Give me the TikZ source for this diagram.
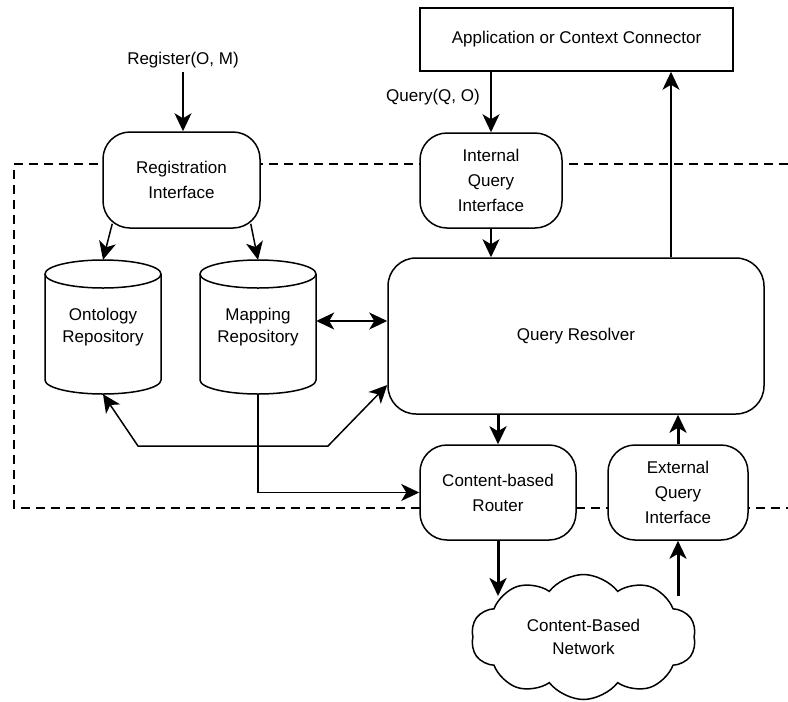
\documentclass[tikz,border=0pt]{standalone}
\usepackage{fontspec}
\setmainfont{Liberation Sans}
\usetikzlibrary{shapes.symbols,arrows.meta,calc,backgrounds}
\begin{document}
\begin{tikzpicture}[x=1pt,y=1pt,
  font=\fontsize{17}{25}\selectfont,
  box/.style={draw,line width=1.5pt,rounded corners=27pt,fill=white,align=center,inner sep=0pt},
  plain/.style={draw,line width=1.5pt,fill=white,align=center,inner sep=0pt},
  cyl/.style={draw,line width=1.5pt,fill=white},
  lbl/.style={align=center,inner sep=0pt},
  tip/.style={-{Stealth[length=18pt,width=17pt,inset=5pt]}},
  btip/.style={{Stealth[length=18pt,width=17pt,inset=5pt]}-{Stealth[length=18pt,width=17pt,inset=5pt]}},
  conn/.style={line width=1.5pt},
  thickconn/.style={line width=3pt},
  dashbox/.style={line width=1.3pt,dash pattern=on 9pt off 6pt}]
\useasboundingbox (0,0) rectangle (788,-702);
% dashed system boundary
\draw[dashbox] (788,-164) -- (14,-164) -- (14,-508) -- (788,-508);
% nodes
\node[box,minimum width=157pt,minimum height=96pt] (reg) at (181.5,-180) {Registration\\Interface};
\node[box,minimum width=142pt,minimum height=95pt] (iqi) at (491,-180.5) {Internal\\Query\\Interface};
\node[plain,minimum width=313pt,minimum height=63pt] (app) at (576.5,-39.5) {Application or Context Connector};
\node[box,rounded corners=28pt,minimum width=376pt,minimum height=156pt] (qr) at (576,-336) {Query Resolver};
\node[box,minimum width=156pt,minimum height=95pt] (router) at (498,-492.5) {Content-based\\Router};
\node[box,minimum width=140pt,minimum height=95pt] (eqi) at (678,-492.5) {External\\Query\\Interface};
% cylinders
\draw[cyl] (45,-274) -- (45,-380) arc[start angle=180,end angle=360,x radius=58,y radius=14] -- (161,-274);
\draw[cyl] (103,-274) ellipse[x radius=58,y radius=14];
\draw[cyl] (200,-274) -- (200,-380) arc[start angle=180,end angle=360,x radius=58,y radius=14] -- (316,-274);
\draw[cyl] (258,-274) ellipse[x radius=58,y radius=14];
\node[lbl,minimum width=116pt,minimum height=134pt,font=\fontsize{17}{22}\selectfont] (ont) at (103,-327) {Ontology\\Repository};
\node[lbl,minimum width=116pt,minimum height=134pt,font=\fontsize{17}{22}\selectfont] (map) at (258,-327) {Mapping\\Repository};
% cloud
\node[cloud,draw,line width=1.5pt,fill=white,cloud puffs=10,cloud puff arc=105,aspect=1.8,minimum width=225pt,minimum height=125pt,inner sep=0pt,align=center,font=\fontsize{17}{23}\selectfont] (net) at (583.5,-637) {Content-Based\\Network};
% labels
\node[lbl] (reglbl) at (183,-60) {Register(O, M)};
\node[lbl] (qlbl) at (433,-97) {Query(Q, O)};
% connectors
\draw[conn,tip] (reglbl.south) ++(0,-4) coordinate (r0) -- (r0 |- reg.north);
\draw[conn,tip] ($(reg.south west)+(10,5)$) -- (ont.north);
\draw[conn,tip] ($(reg.south east)+(-10,5)$) -- (map.north);
\draw[conn,tip] (iqi.north |- app.south) -- (iqi.north);
\draw[conn,tip] (iqi.south) -- (iqi.south |- qr.north);
\draw[conn,tip] ($(qr.north)+(95,0)$) coordinate (q1) -- (q1 |- app.south);
\draw[conn,btip] ($(map.east)+(0,6)$) -- ($(qr.west)+(0,15)$);
\coordinate (b1) at (138,-446);
\coordinate (b2) at (328,-446);
\draw[conn,btip] (ont.south) -- (b1) -- (b2) -- ($(qr.west)+(0,-49)$);
\draw[conn,tip] (map.south) |- (router.west);
\draw[thickconn,tip] (router.north |- qr.south) -- (router.north);
\draw[thickconn,tip] (eqi.north) -- (eqi.north |- qr.south);
\coordinate (c1) at (497,-596);
\coordinate (c2) at (678,-596);
\draw[thickconn,tip] (router.south) -- (router.south |- c1);
\draw[thickconn,tip] (c2) -- (c2 |- eqi.south);
\end{tikzpicture}
\end{document}
